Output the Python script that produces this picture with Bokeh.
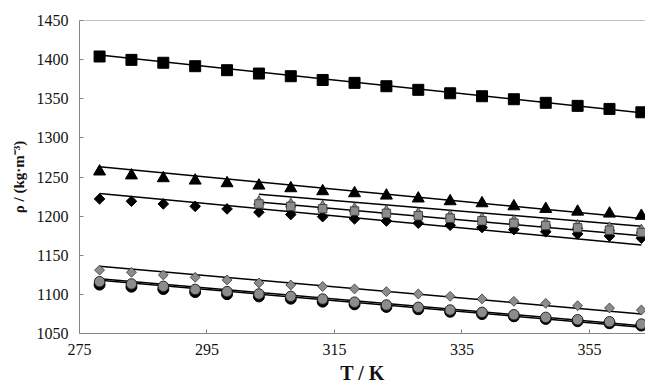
import numpy as np
from bokeh.plotting import figure
from bokeh.models import Span, FixedTicker
from bokeh.embed import file_html
from bokeh.resources import INLINE

# ---- data ----
T_full = [278.15, 283.15, 288.15, 293.15, 298.15, 303.15, 308.15, 313.15, 318.15,
          323.15, 328.15, 333.15, 338.15, 343.15, 348.15, 353.15, 358.15, 363.15]
T_part = [303.15, 308.15, 313.15, 318.15, 323.15, 328.15, 333.15, 338.15, 343.15,
          348.15, 353.15, 358.15, 363.15]

black_square = [1404, 1399.7, 1396, 1391.6, 1386.5, 1382.2, 1378.8, 1374, 1370.3,
                1366, 1361.4, 1357, 1353.2, 1349.4, 1344.8, 1340.9, 1337, 1332.7]
black_triangle = [1257, 1252, 1248.4, 1245.4, 1242, 1239, 1235.6, 1231.8, 1229.2,
                  1226.2, 1222.5, 1219, 1216.4, 1212.5, 1209.2, 1205.7, 1203.2, 1200.3]
black_diamond = [1222, 1219, 1215.6, 1212.5, 1209.2, 1205, 1202, 1199.3, 1196.5,
                 1193.8, 1191, 1188.3, 1185.5, 1182.8, 1180, 1177.3, 1174.5, 1171.8]
gray_triangle = [1218.5, 1215.5, 1212.5, 1209.5, 1206.5, 1203.5, 1200.5, 1197, 1194,
                 1191, 1188, 1185, 1182]
gray_square = [1215.5, 1212.5, 1209.5, 1206.5, 1203.5, 1200.5, 1197.3, 1194, 1191,
               1188, 1185, 1182, 1179]
gray_diamond = [1131, 1128.2, 1124.8, 1121.8, 1118.4, 1114.6, 1112, 1110, 1107,
                1103.5, 1100.5, 1097.5, 1094.2, 1091.1, 1088.5, 1085.5, 1082.6, 1080]
black_circle = [1112.5, 1109.8, 1106.8, 1103, 1100.3, 1097.4, 1094.5, 1090.7, 1087.3,
                1084, 1081, 1077.8, 1074.9, 1072, 1068.6, 1065.7, 1063.1, 1060.2]
gray_circle = [1116.2, 1113.3, 1110.2, 1106.3, 1103.5, 1100.5, 1097.5, 1094, 1090,
               1086.4, 1083.4, 1080, 1077, 1074, 1070.6, 1067.6, 1065, 1062]

# model lines (end points)
fit_T_full = [278.15, 363.15]
fit_T_part = [303.15, 363.15]
fit_black_square = [1406, 1332]
fit_black_triangle = [1263, 1197]
fit_black_diamond = [1229, 1163]
fit_gray_triangle = [1228, 1187]
fit_gray_square = [1218, 1175]
fit_gray_diamond = [1136, 1075]
fit_black_circle = [1118, 1058]
fit_gray_circle = [1120, 1060]

x_ticks = [275, 295, 315, 335, 355]
y_ticks = [1050, 1100, 1150, 1200, 1250, 1300, 1350, 1400, 1450]

# ---- figure ----
p = figure(width=645, height=388, x_range=(275, 363.8), y_range=(1050, 1450),
           output_backend="svg", toolbar_location=None,
           min_border_left=79, min_border_right=0, min_border_top=20, min_border_bottom=55)
p.outline_line_color = None
p.grid.visible = False
p.background_fill_color = "white"
p.border_fill_color = "white"

AX = "#868686"
FONT = "Liberation Serif"
TXT = "#111111"
for ax in (p.xaxis[0], p.yaxis[0]):
    ax.axis_line_color = AX
    ax.major_tick_line_color = AX
    ax.major_tick_in = 4
    ax.major_tick_out = 0
    ax.minor_tick_line_color = None
    ax.major_label_text_font = FONT
    ax.major_label_text_font_size = "16px"
    ax.major_label_text_color = TXT
    ax.axis_label_text_font = FONT
    ax.axis_label_text_font_style = "bold"
    ax.axis_label_text_color = TXT

p.xaxis[0].ticker = FixedTicker(ticks=x_ticks)
p.yaxis[0].ticker = FixedTicker(ticks=y_ticks)
p.xaxis[0].major_label_standoff = 10
p.yaxis[0].major_label_standoff = 11
p.xaxis[0].axis_label = "T / K"
p.xaxis[0].axis_label_text_font_size = "20px"
p.xaxis[0].axis_label_standoff = 4
p.yaxis[0].axis_label = "ρ / (kg·m⁻³)"
p.yaxis[0].axis_label_text_font_size = "15px"
p.yaxis[0].axis_label_standoff = 7

p.add_layout(Span(location=1450, dimension="width", line_color=AX, line_width=1))

LW = 1.5
# lines
p.line(fit_T_full, fit_black_square, line_color="black", line_width=LW)
p.line(fit_T_full, fit_black_triangle, line_color="black", line_width=LW)
p.line(fit_T_full, fit_black_diamond, line_color="black", line_width=LW)
p.line(fit_T_part, fit_gray_triangle, line_color="black", line_width=LW)
p.line(fit_T_part, fit_gray_square, line_color="black", line_width=LW)
p.line(fit_T_full, fit_gray_diamond, line_color="black", line_width=LW)
p.line(fit_T_full, fit_black_circle, line_color="black", line_width=LW)
p.line(fit_T_full, fit_gray_circle, line_color="black", line_width=LW)

GRAY = "#8c8c8c"
EDGE = "#333333"
p.scatter(T_full, black_square, marker="square", size=11, fill_color="black", line_color="black")
p.scatter(T_full, black_triangle, marker="triangle", size=12, fill_color="black", line_color="black")
p.scatter(T_full, black_diamond, marker="square", angle=np.pi / 4, size=7.5,
          fill_color="black", line_color="black")
p.scatter(T_part, gray_triangle, marker="triangle", size=10.5, fill_color=GRAY, line_color=EDGE, line_width=0.8)
p.scatter(T_part, gray_square, marker="square", size=8.5, fill_color=GRAY, line_color=EDGE, line_width=0.8)
p.scatter(T_full, gray_diamond, marker="square", angle=np.pi / 4, size=7,
          fill_color=GRAY, line_color=EDGE, line_width=0.8)
p.scatter(T_full, black_circle, marker="circle", size=11, fill_color="black", line_color="black")
p.scatter(T_full, gray_circle, marker="circle", size=10.5, fill_color=GRAY, line_color="#222222", line_width=1)

open("out.html", "w").write(file_html(p, INLINE))
